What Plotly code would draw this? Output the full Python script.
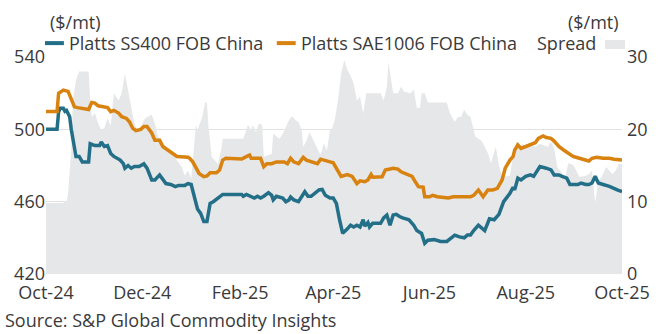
import pandas as pd
import plotly.graph_objects as go

start = pd.Timestamp("2024-10-01")

ss400_days = [0,7,8,9,11,12,13,15,16,18,19,21,23,27,28,31,34,35,37,39,41,43,47,49,50,52,54,56,59,62,64,67,69,72,74,76,79,82,84,88,90,92,94,96,98,100,102,103,104,106,109,112,124,125,127,130,132,134,136,138,141,143,144,146,150,152,154,155,157,160,162,164,166,168,173,175,177,180,182,184,186,188,191,193,195,197,199,201,202,204,205,207,212,214,216,218,220,222,224,226,230,233,235,238,240,242,246,250,254,257,259,262,265,267,269,271,274,278,281,284,287,290,294,296,297,299,301,304,307,309,311,313,317,320,322,325,327,330,332,337,339,342,344,346,348,350,353,357,362,365]
ss400_vals = [500,500,509.7,511.6,511.6,510,510.5,507,500,488.6,485,485,482,482,492,491,491,493,490.5,491,486.7,485,483,481,478.5,480,478.5,479.5,479.5,481,478.5,472,472,474.8,472,470,469.5,468.3,469,469,470,469.5,462.7,456,453.5,449,449,455.5,459,460,462,464,464,463,464,462.8,462,463,462,463,465,463.5,461,463,462,460,461,462.6,461,460,462.6,465.5,463,463,466.5,466.8,463.5,462,462,459,450,442.5,445,447,446,447,446,450,446.5,448.5,446,448,448,451,452.6,447,452.6,453,451.8,451,450,447,444,442.4,437,438.7,439,438,438,440,441.5,440.5,440,441.5,441.5,444,447,444,450.5,450,453,460,464.6,468,466.5,473,472,474,474.8,474,476.5,479.4,478.5,477.6,474.8,474.8,474,473,469.5,469.5,470.3,469.5,469.5,470.3,474,470.3,469.5,468.5,466.5,465.5]

sae_days = [0,7,8,11,14,16,18,20,23,27,29,31,33,36,39,41,43,46,48,51,53,55,57,60,62,64,67,69,72,74,77,80,83,90,91,93,95,97,100,102,104,108,110,112,114,124,126,129,130,136,138,140,143,146,151,153,155,157,160,163,165,168,172,174,177,180,182,184,187,191,194,197,199,202,204,206,207,213,215,220,223,225,228,232,234,236,239,240,243,245,248,255,258,269,271,274,277,280,283,286,289,291,294,296,297,299,301,304,307,310,312,315,317,320,322,325,328,331,334,338,341,344,346,349,353,357,360,363,365]
sae_vals = [509.8,509.8,520,521.7,521,517,512.5,512,511.5,511,514.8,514.5,513,512.5,512,509.8,510.5,509,507,506,504,500.5,499.3,500,501.5,501.5,498,494,494,490.5,488.6,486.7,485,484.6,484,482,479,475.6,473.8,474.2,476,476,477.5,483,484,483.6,484.5,485.8,484,484,479.4,481,481,482,482,481,484,482,481,484.5,483,482,481,483.5,483,482,481.5,478.4,474,475,474,470,471.5,471,472,475,473.5,473.8,477.5,478.5,478,476.5,475.3,474,471,468.3,468,462.7,462.7,463.5,462.7,462,462.7,462.7,463.5,466.4,462.7,466.4,466.4,467.4,472,478.5,483,485,488.6,491.4,489.5,490.5,491.4,492.6,495,496.3,495.5,495,493.5,490.5,488.6,486.7,485,484,483,482.5,484,484.6,484,484,483.5,483.3,483]

spread_days = [0,11,12,13,14,16,17,19,21,27,28,29,31,33,35,37,39,41,43,46,48,50,52,54,56,58,60,62,64,67,69,71,73,75,77,81,83,86,88,90,92,95,96,99,101,102,103,105,107,109,111,112,125,128,130,131,133,135,137,138,143,144,148,150,152,154,156,158,160,162,163,165,167,170,172,174,176,178,180,181,183,185,187,189,191,193,195,197,199,201,203,212,214,216,217,219,220,223,225,227,231,233,235,237,238,240,242,254,256,259,261,263,265,267,269,272,274,276,278,280,282,284,285,287,289,294,296,298,300,302,304,306,310,313,318,320,322,324,326,329,331,334,336,338,342,344,346,348,350,352,355,357,359,361,363,365]
spread_vals = [9.8,9.8,10.1,9.8,11.2,17.1,24,26.8,28,28,24,21.7,22.3,20.8,19.9,20.2,21.5,20.5,25,24,25,27.7,25.4,23,20.8,19.9,20.2,21.3,21.7,22,20.8,19,18.6,17.9,17,16.6,15.7,14.8,13.6,14.3,13.2,20.6,19.9,21.7,23.8,23.6,20.3,16.2,15.7,15.2,17.1,18.7,18.7,20.6,19.9,20.6,19.6,20.8,20.6,16.2,16.6,19.4,18.7,19.4,20.3,21.3,21.8,21.3,21,19.9,17.6,18.4,19.6,18.2,17.1,16.4,18,17.1,19.9,19.9,21.3,24,27.7,29.6,28.2,27.4,26.3,24,24.5,22.2,25,25,24,25.9,29.3,26.3,25,25,25.9,25.2,25,25.5,23,23,25,25,23.7,23.7,22.2,21,21.7,21.7,22.7,22,21.7,19,18.7,18.4,17.6,16.7,15.3,16.7,17.6,15.1,13.4,13.6,16.4,18.3,17.6,18,17.6,18,17.6,18,17.6,18.3,17.4,14.8,14.3,13.4,15.3,15.1,14.3,13.4,13.6,13.8,14.3,9.8,12.9,13.4,14.8,14.3,13.8,14.3,15.2,15.2]

price_ticks = [420, 460, 500, 540]
spread_ticks = [0, 10, 20, 30]
series_names = ["Platts SS400 FOB China", "Platts SAE1006 FOB China", "Spread"]

BLUE = "#236f88"
ORANGE = "#d8820f"
GREY = "#e6e7e8"
TXT = "#3a3a3a"
FONT = "Open Sans"
FS = 18


def to_dates(days):
    return start + pd.to_timedelta(days, unit="D")


fig = go.Figure()
fig.add_trace(go.Scatter(
    x=to_dates(spread_days), y=spread_vals, name=series_names[2], yaxis="y",
    mode="lines", line=dict(width=0, color=GREY), fill="tozeroy",
    fillcolor=GREY, showlegend=False, hoverinfo="skip"))
fig.add_trace(go.Scatter(
    x=to_dates(ss400_days), y=ss400_vals, name=series_names[0],
    yaxis="y2", mode="lines", line=dict(color=BLUE, width=3.5),
    showlegend=False))
fig.add_trace(go.Scatter(
    x=to_dates(sae_days), y=sae_vals, name=series_names[1],
    yaxis="y2", mode="lines", line=dict(color=ORANGE, width=3.5),
    showlegend=False))

fig.update_layout(
    width=662, height=334,
    margin=dict(l=46, r=37, t=57, b=60),
    paper_bgcolor="white", plot_bgcolor="white",
    font=dict(family=FONT, size=FS, color=TXT),
    xaxis=dict(type="date", range=["2024-10-01", "2025-10-01"],
               dtick="M2", tick0="2024-10-01", tickformat="%b-%y",
               showgrid=False, showline=False, ticks="", zeroline=False,
               ticklabelstandoff=6,
               tickfont=dict(family=FONT, size=FS, color=TXT)),
    yaxis=dict(side="right", range=[0, 30], tickvals=spread_ticks,
               showgrid=True, gridcolor="#e2e2e2", gridwidth=1,
               zeroline=False, showline=False, ticks="",
               ticklabelstandoff=4,
               tickfont=dict(family=FONT, size=FS, color=TXT)),
    yaxis2=dict(side="left", overlaying="y", range=[420, 540],
                tickvals=price_ticks, showgrid=False, zeroline=False,
                showline=False, ticks="",
                tickfont=dict(family=FONT, size=FS, color=TXT)),
    showlegend=False,
)

# header units
fig.add_annotation(text="($/mt)", xref="paper", yref="paper", x=0.003, y=1.162,
                   xanchor="left", yanchor="middle", showarrow=False,
                   font=dict(size=FS, color=TXT))
fig.add_annotation(text="($/mt)", xref="paper", yref="paper", x=0.998, y=1.162,
                   xanchor="right", yanchor="middle", showarrow=False,
                   font=dict(size=FS, color=TXT))

# legend row (custom layout to mimic the original)
LY = 1.064
fig.add_shape(type="line", xref="paper", yref="paper", x0=-0.0017, x1=0.0311,
              y0=LY, y1=LY, line=dict(color=BLUE, width=4))
fig.add_annotation(text=series_names[0], xref="paper", yref="paper", x=0.036,
                   y=LY, xanchor="left", yanchor="middle", showarrow=False,
                   font=dict(size=FS, color=TXT))
fig.add_shape(type="line", xref="paper", yref="paper", x0=0.4007, x1=0.4335,
              y0=LY, y1=LY, line=dict(color=ORANGE, width=4))
fig.add_annotation(text=series_names[1], xref="paper", yref="paper", x=0.4385,
                   y=LY, xanchor="left", yanchor="middle", showarrow=False,
                   font=dict(size=FS, color=TXT))
fig.add_annotation(text=series_names[2], xref="paper", yref="paper", x=0.9585,
                   y=LY, xanchor="right", yanchor="middle", showarrow=False,
                   font=dict(size=FS, color=TXT))
fig.add_shape(type="rect", xref="paper", yref="paper", x0=0.9706, x1=1.0052,
              y0=1.0369, y1=1.0783, fillcolor=GREY, line=dict(width=0))

fig.add_annotation(text="Source: S&P Global Commodity Insights", xref="paper",
                   yref="paper", x=-0.0743, y=-0.21, xanchor="left",
                   yanchor="middle", showarrow=False,
                   font=dict(size=FS, color=TXT))

fig.write_html("out.html")
